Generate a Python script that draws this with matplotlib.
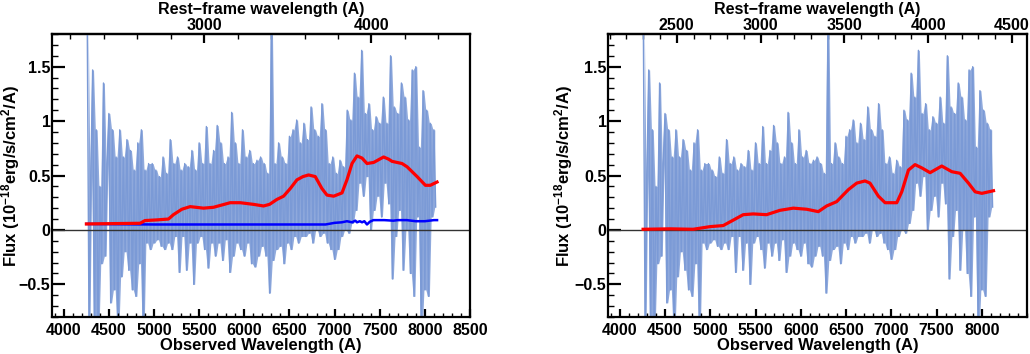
import numpy as np
import matplotlib
matplotlib.use("Agg")
import matplotlib.pyplot as plt
from matplotlib.ticker import MultipleLocator, FixedLocator

plt.rcParams['font.family'] = ['Liberation Sans', 'DejaVu Sans']
plt.rcParams['font.weight'] = 'bold'
plt.rcParams['mathtext.fontset'] = 'custom'
plt.rcParams['mathtext.rm'] = 'Liberation Sans:bold'
plt.rcParams['mathtext.it'] = 'Liberation Sans:bold'
plt.rcParams['mathtext.bf'] = 'Liberation Sans:bold'

# ---------------- data ----------------
ONE_PLUS_Z = 1.852

# observed spectrum on a 20 A grid
spec_wave = np.arange(4260, 8121, 20)
spec_flux = [
    1.95, -0.95, 0.50, 1.47, -0.95, 0.92, -0.95, 0.40, -0.31, 1.35,
    -0.24, 0.61, 1.07, -0.67, 0.92, -0.55, 0.67, -0.95, 0.92, -0.43,
    0.67, -0.20, 0.83, -0.37, 0.73, -0.55, 0.55, -0.61, 0.80, -0.31,
    0.92, -0.95, 0.55, -0.12, 0.61, -0.18, 0.61, -0.12, 0.55, -0.09,
    0.49, -0.15, 0.67, -0.18, 0.52, -0.12, 0.83, -0.18, 0.61, -0.06,
    0.67, -0.39, 0.55, -0.06, 0.61, -0.37, 0.58, -0.12, 0.73, -0.50,
    0.55, -0.12, 0.80, -0.06, 0.61, -0.18, 0.95, -0.35, 0.61, -0.12,
    0.73, -0.24, 0.96, -0.12, 0.80, -0.28, 0.61, -0.09, 0.67, -0.39,
    1.08, -0.24, 0.80, -0.12, 0.61, -0.18, 0.92, -0.24, 0.67, -0.12,
    0.73, -0.31, 0.61, -0.34, 0.64, -0.24, 0.67, -0.15, 0.61, -0.24,
    0.52, -0.58, 1.95, -0.28, 0.61, -0.18, 0.80, -0.15, 0.67, -0.31,
    0.61, -0.12, 0.86, -0.18, 0.92, -0.06, 1.01, -0.12, 0.80, -0.06,
    0.98, -0.06, 0.83, -0.03, 1.13, -0.12, 0.92, 0.00, 0.86, -0.06,
    1.16, -0.03, 0.92, -0.12, 0.61, -0.18, 0.67, -0.27, 0.52, -0.18,
    0.64, -0.06, 0.58, 0.00, 1.10, -0.03, 1.01, 0.06, 1.44, 0.18,
    1.22, 0.43, 1.65, 0.31, 1.07, 0.49, 1.16, 0.00, 0.92, 0.18,
    1.04, 0.31, 0.98, 0.12, 1.22, 0.43, 0.98, 0.24, 1.60, -0.45,
    1.13, -0.06, 1.07, 0.18, 1.35, -0.37, 1.22, 0.00, 1.01, -0.40,
    1.47, -0.61, 1.50, 0.12, 0.76, -0.95, 1.28, -0.55, 1.10, -0.61,
    0.98, 0.12, 0.92, 0.21,
]

# left panel model (red) and second component (blue)
modelA_wave = [4251, 4846, 4900, 5030, 5160, 5215, 5308, 5400, 5548, 5659,
               5844, 5955, 6100, 6213, 6280, 6361, 6435, 6509, 6583, 6650,
               6712, 6786, 6860, 6916, 6990, 7082, 7137, 7193, 7248, 7304,
               7359, 7433, 7543, 7599, 7636, 7747, 7803, 7914, 8006, 8060, 8135]
modelA_flux = [0.055, 0.061, 0.086, 0.092, 0.10, 0.14, 0.19, 0.214, 0.20, 0.208,
               0.25, 0.25, 0.235, 0.22, 0.235, 0.28, 0.31, 0.38, 0.46, 0.49,
               0.505, 0.49, 0.38, 0.32, 0.31, 0.34, 0.46, 0.61, 0.68, 0.66,
               0.61, 0.62, 0.67, 0.65, 0.63, 0.61, 0.58, 0.49, 0.41, 0.41, 0.44]

blue_wave = [4251, 5000, 6000, 6900, 7000, 7080, 7137, 7193, 7230, 7248,
             7280, 7304, 7330, 7359, 7390, 7430, 7550, 7650, 7700, 7800,
             7900, 8000, 8100, 8135]
blue_flux = [0.055, 0.05, 0.05, 0.05, 0.065, 0.07, 0.08, 0.07, 0.085, 0.07,
             0.08, 0.07, 0.08, 0.05, 0.075, 0.09, 0.09, 0.085, 0.09, 0.09,
             0.08, 0.08, 0.09, 0.09]

# right panel model (red)
modelB_wave = [4258, 4553, 4811, 4996, 5143, 5254, 5364, 5475, 5622, 5770,
               5917, 6065, 6194, 6286, 6397, 6526, 6618, 6710, 6765, 6858,
               6932, 7061, 7116, 7190, 7263, 7337, 7429, 7558, 7669, 7761,
               7853, 7927, 8001, 8130]
modelB_flux = [0.006, 0.01, 0.006, 0.03, 0.04, 0.09, 0.14, 0.147, 0.14, 0.18,
               0.20, 0.19, 0.168, 0.22, 0.26, 0.37, 0.43, 0.45, 0.43, 0.31,
               0.25, 0.25, 0.35, 0.55, 0.60, 0.57, 0.526, 0.587, 0.535, 0.52,
               0.43, 0.35, 0.336, 0.36]

left_top_major = [3000, 4000]
right_top_major = [2500, 3000, 3500, 4000, 4500]
left_bottom_ticks = [4000, 4500, 5000, 5500, 6000, 6500, 7000, 7500, 8000, 8500]
right_bottom_ticks = [4000, 4500, 5000, 5500, 6000, 6500, 7000, 7500, 8000]
y_ticks = [-0.5, 0, 0.5, 1, 1.5]
y_labels = ['\u22120.5', '0', '0.5', '1', '1.5']

SPEC_COLOR = '#7b9ad6'
FS_TICK = 11.5
FS_LAB = 12

fig = plt.figure(figsize=(10.30, 3.54), dpi=100)
axL = fig.add_axes([52 / 1030, 37 / 354, 418 / 1030, 283 / 354])
axR = fig.add_axes([608 / 1030, 37 / 354, 419 / 1030, 283 / 354])

sw = np.asarray(spec_wave, dtype=float)
sf = np.asarray(spec_flux, dtype=float)
mid_w = 0.5 * (sw[:-1] + sw[1:])
env_hi = np.maximum(sf[:-1], sf[1:])
env_lo = np.minimum(sf[:-1], sf[1:])


def style(ax, bticks, tmajor, tminor, ylab_x):
    ax.set_xlim(3870, 8500)
    ax.set_ylim(-0.8, 1.8)
    ax.axhline(0, color='#333333', lw=1.0, zorder=2)
    ax.fill_between(mid_w, env_lo, env_hi, color=SPEC_COLOR, lw=0, alpha=0.85, zorder=1)
    ax.plot(sw, sf, color=SPEC_COLOR, lw=1.0, zorder=1)
    for s in ax.spines.values():
        s.set_linewidth(1.6)
    ax.xaxis.set_major_locator(FixedLocator(bticks))
    ax.xaxis.set_minor_locator(MultipleLocator(100))
    ax.set_xticklabels([str(t) for t in bticks])
    ax.yaxis.set_major_locator(FixedLocator(y_ticks))
    ax.set_yticklabels(y_labels)
    ax.yaxis.set_minor_locator(MultipleLocator(0.1))
    ax.tick_params(axis='x', which='major', direction='in', length=6, width=1.6,
                   labelsize=FS_TICK, pad=4, top=False)
    ax.tick_params(axis='x', which='minor', direction='in', length=3, width=1.0, top=False)
    ax.tick_params(axis='y', which='major', direction='in', length=9, width=1.6,
                   labelsize=FS_TICK, pad=1, right=False)
    ax.tick_params(axis='y', which='minor', direction='in', length=4.5, width=1.0, right=False)
    for lab in ax.get_xticklabels() + ax.get_yticklabels():
        lab.set_fontweight('bold')
    ax.set_xlabel('Observed Wavelength (A)', fontsize=FS_LAB, fontweight='bold', labelpad=0)
    ax.set_ylabel(r'Flux (10$^{-18}$erg/s/cm$^{2}$/A)', fontsize=FS_LAB, fontweight='bold')
    ax.yaxis.set_label_coords(ylab_x, 0.5)

    sec = ax.secondary_xaxis('top', functions=(lambda x: x / ONE_PLUS_Z,
                                               lambda x: x * ONE_PLUS_Z))
    sec.xaxis.set_major_locator(FixedLocator(tmajor))
    sec.xaxis.set_minor_locator(MultipleLocator(tminor))
    sec.set_xticklabels([str(t) for t in tmajor])
    sec.tick_params(axis='x', which='major', direction='in', length=6.5, width=1.6,
                    labelsize=FS_TICK, pad=0.5)
    sec.tick_params(axis='x', which='minor', direction='in', length=3.4, width=1.0)
    for lab in sec.get_xticklabels():
        lab.set_fontweight('bold')
    sec.spines['top'].set_linewidth(1.6)
    sec.set_xlabel('Rest\u2212frame wavelength (A)', fontsize=11.5, fontweight='bold',
                   labelpad=3)
    return sec


style(axL, left_bottom_ticks, left_top_major, 200, -0.072)
axL.plot(modelA_wave, modelA_flux, color='#ff0000', lw=2.3, zorder=4)
axL.plot(blue_wave, blue_flux, color='#0000ff', lw=1.8, zorder=3)

style(axR, right_bottom_ticks, right_top_major, 100, -0.079)
axR.plot(modelB_wave, modelB_flux, color='#ff0000', lw=2.3, zorder=4)

fig.savefig('out.png', dpi=100)
